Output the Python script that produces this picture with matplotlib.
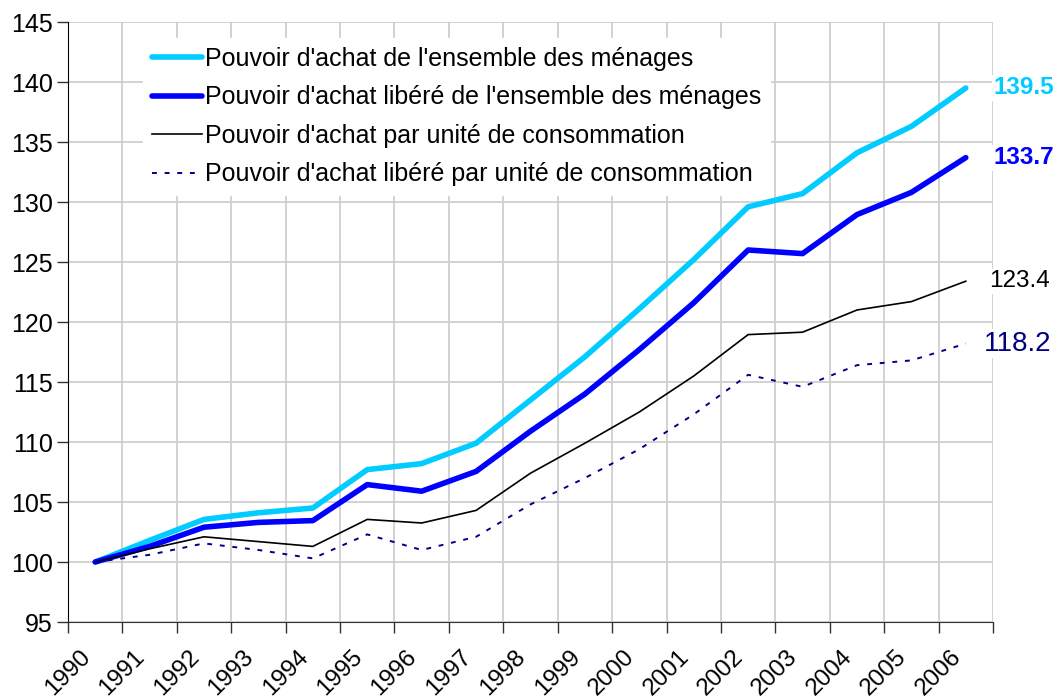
"""Pouvoir d'achat des ménages, 1990-2006 (base 100 en 1990)."""
import matplotlib
matplotlib.use('Agg')
import matplotlib.pyplot as plt
import matplotlib.ticker as mticker
import matplotlib.transforms as mtrans
import numpy as np

years = [str(y) for y in range(1990, 2007)]

pa_menages = [100, 101.8, 103.55, 104.1, 104.5, 107.7, 108.2, 109.9, 113.5,
              117.1, 121.1, 125.2, 129.6, 130.7, 134.1, 136.3, 139.5]
pa_libere_menages = [100, 101.3, 102.9, 103.3, 103.45, 106.45, 105.9, 107.55,
                     110.9, 114.0, 117.7, 121.6, 126.0, 125.7, 128.95, 130.8,
                     133.7]
pa_uc = [100, 101.1, 102.1, 101.7, 101.3, 103.55, 103.25, 104.3, 107.4, 109.9,
         112.5, 115.5, 118.95, 119.15, 121.0, 121.7, 123.4]
pa_libere_uc = [100, 100.6, 101.55, 101.0, 100.3, 102.3, 101.0, 102.1, 104.8,
                107.0, 109.4, 112.3, 115.6, 114.6, 116.4, 116.8, 118.2]

labels = [
    "Pouvoir d'achat de l'ensemble des ménages",
    "Pouvoir d'achat libéré de l'ensemble des ménages",
    "Pouvoir d'achat par unité de consommation",
    "Pouvoir d'achat libéré par unité de consommation",
]

plt.rcParams['font.family'] = ['Liberation Sans', 'DejaVu Sans']

fig = plt.figure(figsize=(10.58, 6.98), dpi=100)
ax = fig.add_axes([68 / 1058, 76 / 698, 925 / 1058, 600 / 698])

x = np.arange(len(years))

ax.plot(x, pa_menages, color='#00ccff', lw=4, label=labels[0],
        solid_capstyle='round', zorder=5)
ax.plot(x, pa_libere_menages, color='#0000ff', lw=4, label=labels[1],
        solid_capstyle='round', zorder=5)
ax.plot(x, pa_uc, color='black', lw=1.2, label=labels[2], zorder=5)
ax.plot(x, pa_libere_uc, color='#000080', lw=1.4, ls=(0, (2.5, 4)),
        label=labels[3], zorder=5)

ax.set_xlim(-0.5, len(years) - 0.5)
ax.set_ylim(95, 145)

# ticks at category boundaries, labels at centres
ax.xaxis.set_major_locator(mticker.FixedLocator(np.arange(-0.5, len(years), 1)))
ax.xaxis.set_major_formatter(mticker.NullFormatter())
ax.xaxis.set_minor_locator(mticker.FixedLocator(x))
ax.xaxis.set_minor_formatter(mticker.FixedFormatter(years))
ax.tick_params(axis='x', which='major', direction='out', length=8,
               width=1, color='#333333')
ax.tick_params(axis='x', which='minor', length=0, pad=17, labelsize=17.5)
offset = mtrans.ScaledTranslation(-16 / 100, 0, fig.dpi_scale_trans)
for lab in ax.xaxis.get_minorticklabels():
    lab.set_rotation(45)
    lab.set_ha('right')
    lab.set_va('top')
    lab.set_rotation_mode('anchor')
    lab.set_transform(lab.get_transform() + offset)

ax.yaxis.set_major_locator(mticker.MultipleLocator(5))
ax.tick_params(axis='y', direction='out', length=8, width=1,
               color='#333333', labelsize=18, pad=3)

ax.grid(True, which='major', color='#cfcfcf', lw=1.3)
ax.set_axisbelow(True)
for side in ['top', 'right']:
    ax.spines[side].set_visible(False)
ax.spines['left'].set_color('black')
ax.spines['bottom'].set_color('#333333')

leg = ax.legend(loc='upper left', bbox_to_anchor=(0.081, 0.973), frameon=True,
                fontsize=18, handlelength=2.0, handletextpad=0.12,
                labelspacing=0.58, borderaxespad=0, borderpad=0.35,
                fancybox=False)
leg.get_frame().set_edgecolor('white')
leg.get_frame().set_facecolor('white')
leg.get_frame().set_alpha(1)

# end-of-line values
end_vals = [pa_menages[-1], pa_libere_menages[-1], pa_uc[-1], pa_libere_uc[-1]]
end_cols = ['#00ccff', '#0000ff', 'black', '#000080']
end_wts = ['bold', 'bold', 'normal', 'normal']
end_size = [17.5, 17.5, 17.5, 20]
end_dx = [0.0, 0.0, -0.08, -0.16]
for v, c, w, s, d in zip(end_vals, end_cols, end_wts, end_size, end_dx):
    ax.text(len(years) - 0.5 + d, v, f"{v:.1f}", color=c, fontweight=w,
            fontsize=s, va='center', ha='left', clip_on=False,
            bbox=dict(facecolor='white', edgecolor='none', pad=1))

fig.savefig('out.png', dpi=100)
